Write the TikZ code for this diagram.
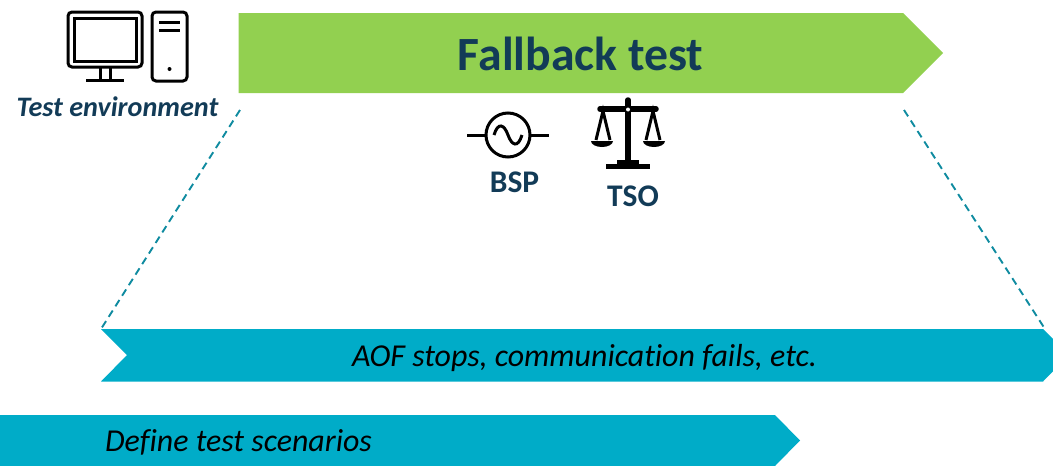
\documentclass[tikz,border=0pt]{standalone}
\usepackage{fontspec}
\setmainfont[Ligatures=NoCommon]{Carlito}
\definecolor{banner-green}{HTML}{92D050}
\definecolor{banner-teal}{HTML}{00ACC8}
\definecolor{guide-teal}{HTML}{0F8BA0}
\definecolor{label-navy}{HTML}{123B57}
\tikzset{
    banner-green-fill/.style = {fill=banner-green},
    banner-teal-fill/.style = {fill=banner-teal},
    guide-line/.style = {draw=guide-teal, line width=1.9pt, dash pattern=on 7.5pt off 5pt},
    icon-line/.style = {draw=black, line width=3pt, rounded corners=4pt},
    icon-stroke/.style = {draw=black, line width=3pt},
    icon-solid/.style = {fill=black},
    actor-label/.style = {text=label-navy, font=\bfseries\fontsize{31.5}{33}\selectfont, inner sep=0pt},
    step-label/.style = {font=\itshape\fontsize{31.9}{33}\selectfont, inner sep=0pt},
}

\begin{document}
\begin{tikzpicture}[x=1pt, y=-1pt]
\useasboundingbox (0,0) rectangle (1053,466);
\begin{scope}
\clip (0,0) rectangle (1053,466);
% banners
\fill [banner-green-fill] (238.5,13) -- (903,13) -- (943,53) -- (903,93) -- (238.5,93) -- cycle;
\fill [banner-teal-fill] (101,329) -- (1043,329) -- (1069,355) -- (1043,381.5) -- (101,381.5) -- (127,355) -- cycle;
\fill [banner-teal-fill] (-5,415) -- (775,415) -- (800,440.5) -- (775,466) -- (-5,466) -- cycle;
\end{scope}

\coordinate (left-top) at (240,110);
\coordinate (left-bottom) at (101,329);
\coordinate (right-top) at (904,110);
\coordinate (right-bottom) at (1045,329);
\draw [guide-line] (left-top) -- (left-bottom);
\draw [guide-line] (right-top) -- (right-bottom);

\node [text=label-navy, font=\bfseries\fontsize{47.7}{49}\selectfont, inner sep=0pt] (fallback-title) at (580.5,53.5) {Fallback test};
\node [step-label] (stops-label) at (584.5,358) {AOF stops, communication fails, etc.};
\node [step-label] (define-label) at (238.5,442) {Define test scenarios};
\node [text=label-navy, font=\bfseries\itshape\fontsize{28.2}{30}\selectfont, inner sep=0pt] (environment-label) at (117.5,107) {Test environment};
\node [actor-label] (bsp-label) at (514.5,182) {BSP};
\node [actor-label] (tso-label) at (633,196) {TSO};

% computer
\draw [icon-line] (68,12) rectangle (142,67);
\draw [icon-stroke] (74.5,18.5) rectangle (136,61);
\draw [icon-stroke] (100,67) -- (100,80) (110,67) -- (110,80) (86,80) -- (124,80);
\draw [icon-line] (152,12) rectangle (187,81);
\fill [icon-solid] (159,21) rectangle (180,24);
\fill [icon-solid] (159,29) rectangle (180,31.5);
\fill [icon-solid] (169.5,69) circle (2);

% generator
\draw [icon-stroke] (508,135) circle (22);
\draw [icon-stroke] (467,135) -- (486,135) (530,135) -- (549,135);
\draw [icon-stroke] (494,135) .. controls (498,122) and (504,124) .. (508,135) .. controls (512,146) and (518,148) .. (522,135);

% balance
\draw [black, line width=5.5pt, line cap=round] (628,100) -- (628,160);
\draw [black, line width=5.5pt, line cap=round] (600,109) -- (656,109);
\fill [icon-solid] (606,164) rectangle (650,169);
\fill [icon-solid] (617,160) rectangle (639,165);
\fill [white] (628,109.5) circle (2);
\draw [black, line width=3pt] (596,140) -- (603,111) -- (610,140);
\draw [black, line width=3pt] (646,140) -- (653,111) -- (660,140);
\fill [icon-solid] (591,141) -- (613,141) arc [start angle=0, end angle=-180, x radius=11, y radius=-6] -- cycle;
\fill [icon-solid] (643,141) -- (665,141) arc [start angle=0, end angle=-180, x radius=11, y radius=-6] -- cycle;
\end{tikzpicture}
\end{document}
